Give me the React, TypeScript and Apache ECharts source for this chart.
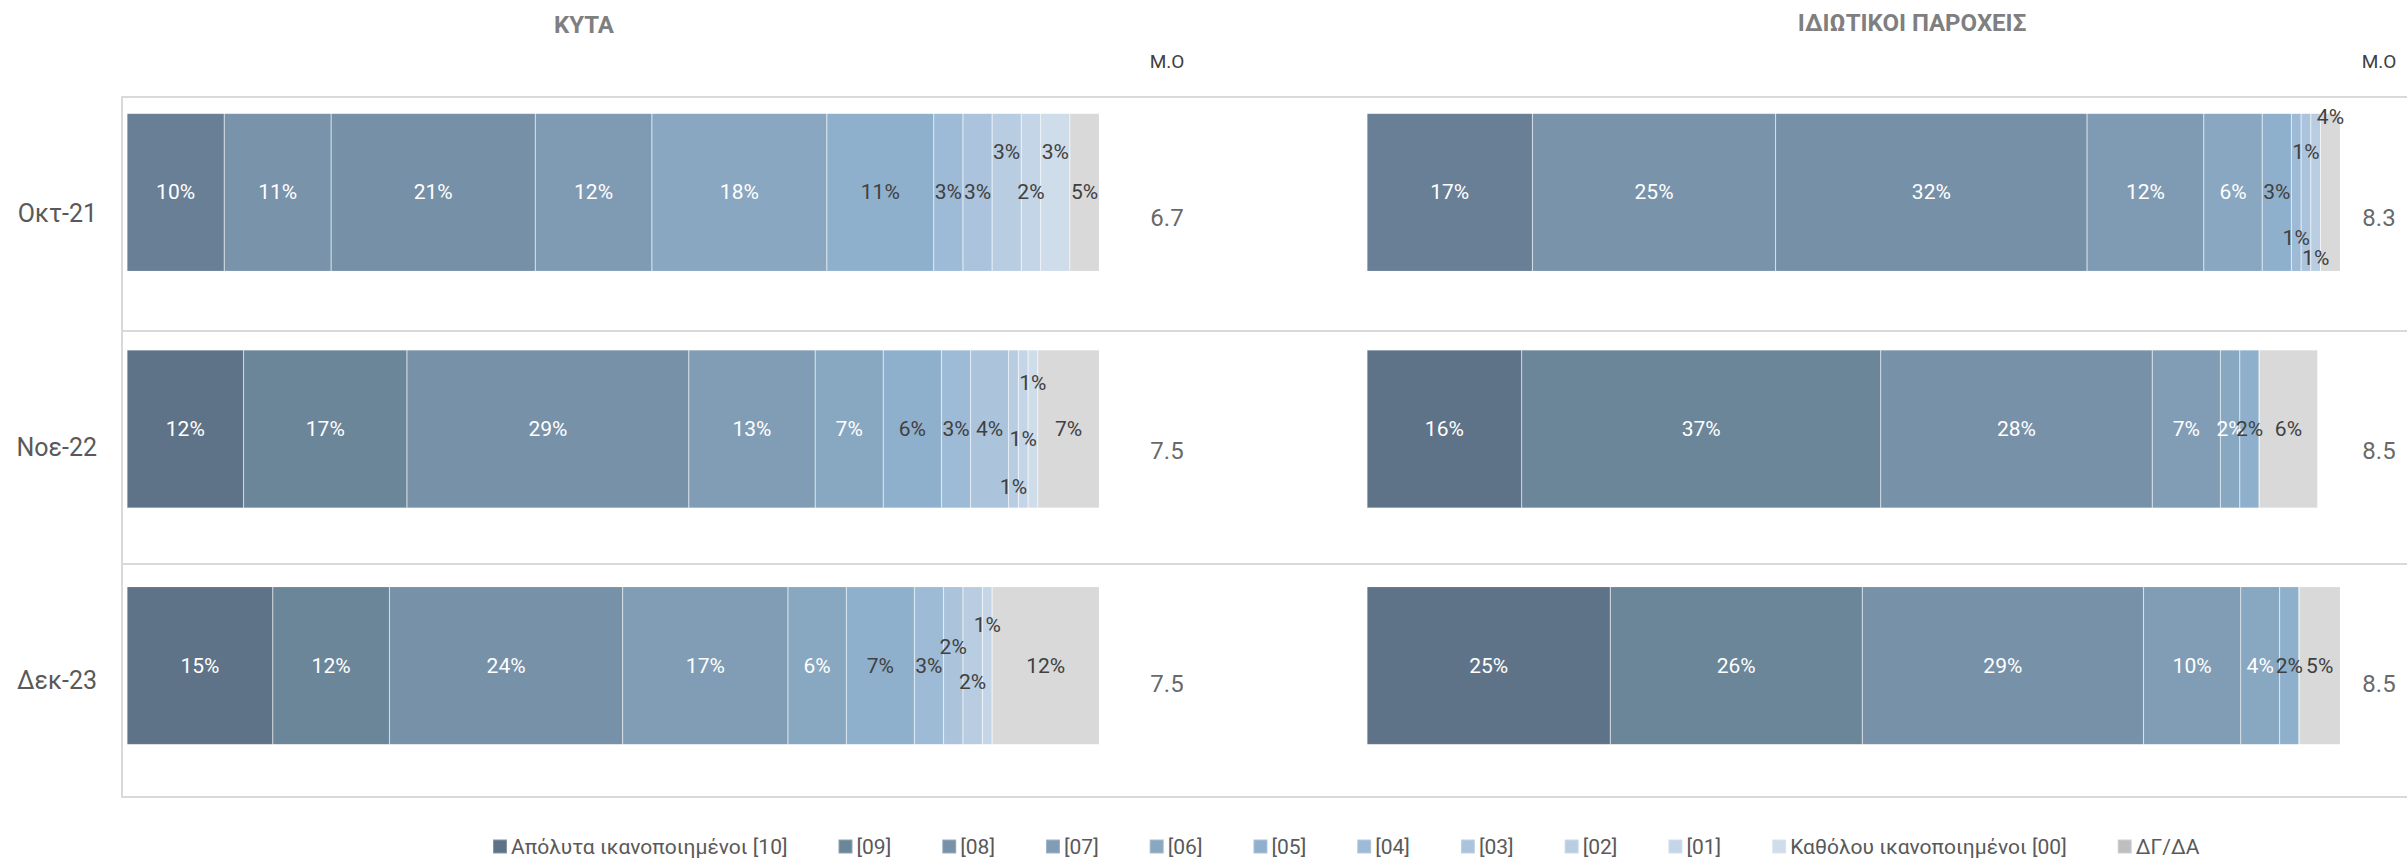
import React, { useEffect, useRef } from "react";
import * as echarts from "echarts";

// ---------- data ----------
const categories = ["Οκτ-21", "Νοε-22", "Δεκ-23"];
const seriesNames = [
  "Απόλυτα ικανοποιημένοι [10]",
  "[09]",
  "[08]",
  "[07]",
  "[06]",
  "[05]",
  "[04]",
  "[03]",
  "[02]",
  "[01]",
  "Καθόλου ικανοποιημένοι [00]",
  "ΔΓ/ΔΑ",
];
const panelTitles = ["ΚΥΤΑ", "ΙΔΙΩΤΙΚΟΙ ΠΑΡΟΧΕΙΣ"];
const meanHeader = "M.O";

// percentages per level [10]..[00], ΔΓ/ΔΑ
const kytaOct21 = [10, 11, 21, 12, 18, 11, 3, 3, 3, 2, 3, 5];
const kytaNov22 = [12, 16.8, 29, 13, 7, 6, 3, 3.9, 1, 1, 1, 7];
const kytaDec23 = [15, 12, 24, 17, 6, 7, 3, 2, 2, 1, 0, 12];
const privOct21 = [17, 25, 32, 12, 6, 3, 1, 1, 1, 0, 0, 4];
const privNov22 = [15.9, 36.9, 27.9, 7, 2, 2, 0, 0, 0, 0, 0, 6];
const privDec23 = [25, 25.9, 28.9, 10, 4, 2, 0, 0, 0, 0, 0, 5];
const kytaMean = [6.7, 7.5, 7.5];
const privMean = [8.3, 8.5, 8.5];

// ---------- styles ----------
const FONT = 'Roboto, "Noto Sans", "DejaVu Sans", sans-serif';
const palette = [
  "#5f7388", "#6b8599", "#7791a8", "#809db5", "#88a7c0", "#8fb0cc",
  "#9dbbd6", "#abc4dc", "#b8cde2", "#c4d5e7", "#cfdcea", "#d9d9d9",
];
const paletteFirstRow = [
  "#687f96", "#7893aa", "#7690a7", "#7f9bb4", "#89a7c0", "#8fb0cd",
  "#9dbad6", "#abc3dc", "#b8cde2", "#c4d5e7", "#cfdcea", "#d9d9d9",
];
// vertical label offsets [panel][row] -> {levelIndex: dy}
const labelOffsets: Record<number, number>[][] = [
  [{ 8: -40, 10: -40 }, { 8: 58, 9: 10, 10: -46 }, { 7: -19, 8: 16, 9: -41 }],
  [{ 6: 46, 7: -40, 8: 66, 11: -75 }, {}, {}],
];

export default function App() {
  const ref = useRef<HTMLDivElement>(null);

  useEffect(() => {
    if (!ref.current) return;
    const chart = echarts.init(ref.current, undefined, { renderer: "svg" });

    const panels = [
      [kytaOct21, kytaNov22, kytaDec23],
      [privOct21, privNov22, privDec23],
    ];

    const barSeries: any[] = [];
    panels.forEach((rows, p) => {
      seriesNames.forEach((name, i) => {
        barSeries.push({
          type: "bar",
          name,
          xAxisIndex: p + 1,
          yAxisIndex: p + 1,
          stack: "panel" + p,
          barWidth: 158,
          clip: true,
          itemStyle: {
            color: palette[i],
            borderColor: "rgba(255,255,255,0.25)",
            borderWidth: 0.6,
          },
          label: {
            show: true,
            position: "inside",
            formatter: (pr: any) =>
              pr.value > 0 ? Math.round(pr.value) + "%" : "",
            color: i < 5 ? "#ffffff" : "#404040",
            fontSize: 21,
            fontFamily: FONT,
          },
          data: rows.map((r, ri) => {
            const item: any = { value: r[i] };
            if (ri === 0) item.itemStyle = { color: paletteFirstRow[i] };
            const dy = labelOffsets[p][ri][i];
            if (dy) item.label = { offset: [0, dy] };
            return item;
          }),
        });
      });
    });

    const meanSeries = [kytaMean, privMean].map((vals, p) => ({
      type: "scatter",
      xAxisIndex: p + 3,
      yAxisIndex: p + 3,
      symbolSize: 1,
      itemStyle: { color: "rgba(0,0,0,0)" },
      label: {
        show: true,
        position: "inside",
        formatter: (pr: any) => vals[pr.dataIndex].toFixed(1),
        color: "#404040",
        fontSize: 24,
        fontFamily: FONT,
      },
      data: categories.map((c) => [0.5, c]),
    }));

    const hiddenValueAxis = (gridIndex: number, max: number) => ({
      gridIndex,
      type: "value",
      min: 0,
      max,
      show: false,
    });
    const hiddenCatAxis = (gridIndex: number) => ({
      gridIndex,
      type: "category",
      data: categories,
      inverse: true,
      show: false,
    });

    chart.setOption({
      animation: false,
      backgroundColor: "#ffffff",
      textStyle: { fontFamily: FONT },
      grid: [
        { left: 122, top: 97, width: 2285, height: 700 },
        { left: 127, top: 74, width: 972, height: 710 },
        { left: 1367, top: 74, width: 973, height: 710 },
        { left: 1147, top: 101, width: 40, height: 700 },
        { left: 2359, top: 101, width: 40, height: 700 },
      ],
      xAxis: [
        hiddenValueAxis(0, 1),
        hiddenValueAxis(1, 100),
        hiddenValueAxis(2, 100),
        hiddenValueAxis(3, 1),
        hiddenValueAxis(4, 1),
      ],
      yAxis: [
        {
          gridIndex: 0,
          type: "category",
          data: categories,
          inverse: true,
          axisLine: { show: true, lineStyle: { color: "#d9d9d9", width: 2 } },
          axisTick: { show: false },
          splitLine: { show: true, lineStyle: { color: "#d9d9d9", width: 2 } },
          axisLabel: {
            color: "#595959",
            fontSize: 25,
            fontFamily: FONT,
            margin: 25,
          },
        },
        hiddenCatAxis(1),
        hiddenCatAxis(2),
        hiddenCatAxis(3),
        hiddenCatAxis(4),
      ],
      legend: {
        left: 492,
        top: 836,
        padding: 0,
        itemWidth: 14,
        itemHeight: 14,
        itemGap: 50,
        icon: "rect",
        selectedMode: false,
        textStyle: { fontSize: 21, color: "#595959", fontFamily: FONT, padding: [0, 0, 0, -1] },
        data: seriesNames.map((n, i) =>
          i === seriesNames.length - 1
            ? { name: n, itemStyle: { color: "#bfbfbf" } }
            : { name: n }
        ),
      },
      graphic: [
        {
          type: "text",
          x: 584,
          y: 25,
          style: {
            text: panelTitles[0],
            fill: "#7f7f7f",
            font: `bold 24px ${FONT}`,
            align: "center",
            verticalAlign: "middle",
          },
        },
        {
          type: "text",
          x: 1912,
          y: 23,
          style: {
            text: panelTitles[1],
            fill: "#7f7f7f",
            font: `bold 24px ${FONT}`,
            align: "center",
            verticalAlign: "middle",
          },
        },
        {
          type: "text",
          x: 1167,
          y: 61,
          style: {
            text: meanHeader,
            fill: "#404040",
            font: `19px ${FONT}`,
            align: "center",
            verticalAlign: "middle",
          },
        },
        {
          type: "text",
          x: 2379,
          y: 61,
          style: {
            text: meanHeader,
            fill: "#404040",
            font: `19px ${FONT}`,
            align: "center",
            verticalAlign: "middle",
          },
        },
      ],
      series: [...barSeries, ...meanSeries],
    });

    return () => chart.dispose();
  }, []);

  return (
    <div
      ref={ref}
      style={{ position: "fixed", left: 0, top: 0, width: 2407, height: 859 }}
    />
  );
}
